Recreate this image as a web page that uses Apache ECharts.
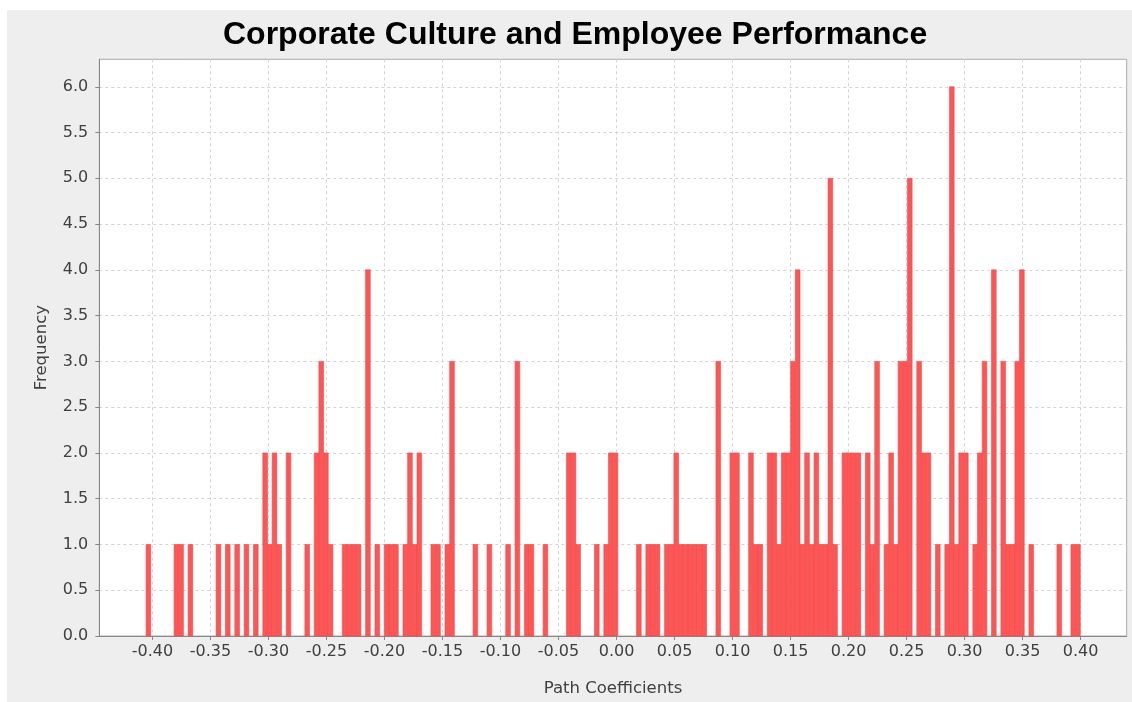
<!DOCTYPE html>
<html><head><meta charset="utf-8">
<script src="https://cdn.jsdelivr.net/npm/echarts@6/dist/echarts.min.js"></script>
<style>
html,body{margin:0;padding:0;background:#ffffff;}
#chart{position:absolute;left:7px;top:10px;width:1125px;height:692px;}
</style>
</head><body><div id="chart"></div>
<script>
// Histogram: 200 equal-width bins
const binStart = -0.4055;
const binWidth = 0.004026;
const counts = [
  1,0,0,0,0,0,1,1,0,1, 0,0,0,0,0,1,0,1,0,1,
  0,1,0,1,0,2,1,2,1,0, 2,0,0,0,1,0,2,3,2,1,
  0,0,1,1,1,1,0,4,0,1, 0,1,1,1,0,1,2,1,2,0,
  0,1,1,0,1,3,0,0,0,0, 1,0,0,1,0,0,0,1,0,3,
  0,1,1,0,0,1,0,0,0,0, 2,2,1,0,0,0,1,0,1,2,
  2,0,0,0,0,1,0,1,1,1, 0,1,1,2,1,1,1,1,1,1,
  0,0,3,0,0,2,2,0,0,2, 1,1,0,2,2,1,2,2,3,4,
  1,2,1,2,1,1,5,1,0,2, 2,2,2,0,2,1,3,0,1,2,
  1,3,3,5,0,3,2,2,0,1, 0,1,6,1,2,2,0,1,2,3,
  0,4,0,3,1,1,3,4,0,1, 0,0,0,0,0,1,0,0,1,1
];
const xTickValues = [-0.40,-0.35,-0.30,-0.25,-0.20,-0.15,-0.10,-0.05,0.00,0.05,0.10,0.15,0.20,0.25,0.30,0.35,0.40];
const yTickValues = [0,0.5,1,1.5,2,2.5,3,3.5,4,4.5,5,5.5,6];
const xMin = -0.4458, xMax = 0.4397;
const yMin = 0, yMax = 6.3;

const barData = [];
counts.forEach((c, i) => {
  if (c > 0) barData.push([binStart + i * binWidth, binStart + (i + 1) * binWidth, c]);
});

const chart = echarts.init(document.getElementById('chart'), null, {renderer: 'canvas'});
const labelFont = {fontFamily: 'DejaVu Sans', fontSize: 16, color: '#404040'};

chart.setOption({
  animation: false,
  backgroundColor: '#eeeeee',
  title: {
    text: 'Corporate Culture and Employee Performance',
    left: 211,
    top: 4,
    textStyle: {fontFamily: 'Liberation Sans', fontWeight: 'bold', fontSize: 32, color: '#000000'}
  },
  grid: {
    left: 92.3, right: 5.3, top: 49.3, bottom: 66,
    show: true, backgroundColor: '#ffffff', borderColor: '#aaaaaa', borderWidth: 1
  },
  xAxis: {
    type: 'value',
    min: xMin, max: xMax,
    minInterval: 0.05, maxInterval: 0.05, splitNumber: 18,
    name: 'Path Coefficients',
    nameLocation: 'middle',
    nameGap: 44,
    nameTextStyle: {fontFamily: 'DejaVu Sans', fontSize: 16.5, color: '#404040'},
    axisLine: {show: true, onZero: false, lineStyle: {color: '#888888', width: 1}},
    axisTick: {show: true, length: 4, customValues: xTickValues, lineStyle: {color: '#888888'}},
    axisLabel: Object.assign({customValues: xTickValues, margin: 8,
      formatter: v => v.toFixed(2)}, labelFont),
    splitLine: {show: true, lineStyle: {color: '#d4d4d4', type: [3, 3], width: 1}}
  },
  yAxis: {
    type: 'value',
    min: yMin, max: yMax, interval: 0.5,
    name: 'Frequency',
    nameLocation: 'middle',
    nameGap: 49,
    nameTextStyle: {fontFamily: 'DejaVu Sans', fontSize: 16.5, color: '#404040'},
    axisLine: {show: true, onZero: false, lineStyle: {color: '#888888', width: 1}},
    axisTick: {show: true, length: 4, customValues: yTickValues, lineStyle: {color: '#888888'}},
    axisLabel: Object.assign({customValues: yTickValues, margin: 11,
      formatter: v => v.toFixed(1)}, labelFont),
    splitLine: {show: true, lineStyle: {color: '#d4d4d4', type: [3, 3], width: 1}}
  },
  series: [{
    type: 'custom',
    data: barData,
    encode: {x: [0, 1], y: 2},
    renderItem: function (params, api) {
      const p0 = api.coord([api.value(0), api.value(2)]);
      const p1 = api.coord([api.value(1), 0]);
      return {
        type: 'rect',
        shape: {x: p0[0], y: p0[1], width: p1[0] - p0[0], height: p1[1] - p0[1]},
        style: {fill: '#ff5555', stroke: '#e25050', lineWidth: 0.6}
      };
    }
  }]
});
</script>
</body></html>
